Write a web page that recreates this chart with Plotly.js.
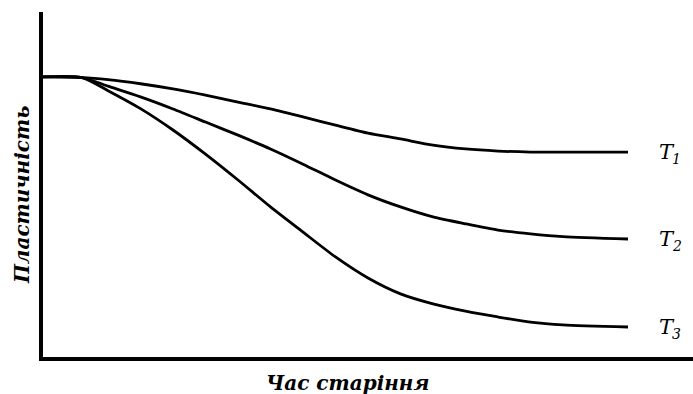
<!DOCTYPE html>
<html>
<head>
<meta charset="utf-8">
<script src="https://cdn.plot.ly/plotly-3.0.1.min.js"></script>
<style>
  html, body { margin: 0; padding: 0; background: #fff; }
  #chart { width: 693px; height: 394px; }
</style>
</head>
<body>
<div id="chart"></div>
<script>
// Ageing time (arbitrary units) and plasticity for three temperatures
const ageingTime = [0, 0.6, 1.0, 1.5, 2.0, 2.5, 3.0, 3.5, 4.0, 4.5, 5.0, 5.5, 6.0, 6.5, 7.0, 7.5, 8.0, 9.0];
const plasticityT1 = [8.12, 8.10, 8.04, 7.92, 7.77, 7.59, 7.39, 7.19, 6.96, 6.72, 6.49, 6.32, 6.14, 6.03, 5.97, 5.94, 5.94, 5.94];
const plasticityT2 = [8.12, 8.10, 7.85, 7.54, 7.19, 6.81, 6.43, 6.03, 5.59, 5.13, 4.70, 4.35, 4.06, 3.86, 3.68, 3.57, 3.49, 3.42];
const plasticityT3 = [8.12, 8.10, 7.72, 7.20, 6.58, 5.88, 5.13, 4.35, 3.62, 2.90, 2.29, 1.83, 1.54, 1.33, 1.16, 1.01, 0.93, 0.87];
const curveNames = ['T', 'T', 'T'];
const curveIndices = ['1', '2', '3'];

const xTitle = 'Час старіння';
const yTitle = 'Пластичність';

const series = [plasticityT1, plasticityT2, plasticityT3];

const serif = 'DejaVu Serif';

const traces = series.map(ys => ({
    x: ageingTime,
    y: ys,
    type: 'scatter',
    mode: 'lines',
    line: { color: '#000', width: 2.8, shape: 'spline', smoothing: 0.7 },
    hoverinfo: 'skip'
}));

const annotations = [];

// Curve labels (T with a subscript index) just right of each line end
series.forEach((ys, i) => {
    const xEnd = ageingTime[ageingTime.length - 1] + 0.45;
    const yEnd = ys[ys.length - 1];
    annotations.push({
        x: xEnd, y: yEnd, xref: 'x', yref: 'y',
        text: curveNames[i], showarrow: false,
        xanchor: 'left', yanchor: 'middle',
        font: { family: serif, size: 21, color: '#000', style: 'italic' }
    });
    annotations.push({
        x: xEnd, y: yEnd, xref: 'x', yref: 'y',
        text: curveIndices[i], showarrow: false,
        xanchor: 'left', yanchor: 'middle',
        xshift: 13, yshift: -7,
        font: { family: serif, size: 14, color: '#000', style: 'italic' }
    });
});

const titleFont = { family: serif, size: 20, color: '#000', weight: 'bold', style: 'italic' };

annotations.push({
    x: 0.469, y: -0.075, xref: 'paper', yref: 'paper',
    text: xTitle, showarrow: false,
    xanchor: 'center', yanchor: 'middle',
    font: titleFont
});
annotations.push({
    x: -0.032, y: 0.47, xref: 'paper', yref: 'paper',
    text: yTitle, showarrow: false, textangle: -90,
    xanchor: 'center', yanchor: 'middle',
    font: titleFont
});

const layout = {
    width: 693,
    height: 394,
    margin: { l: 43, r: 0, t: 12, b: 37 },
    paper_bgcolor: '#fff',
    plot_bgcolor: '#fff',
    showlegend: false,
    font: { family: serif },
    xaxis: {
        range: [0, 10],
        showline: true,
        linecolor: '#000',
        linewidth: 4,
        showgrid: false,
        zeroline: false,
        showticklabels: false,
        ticks: ''
    },
    yaxis: {
        range: [0, 10],
        showline: true,
        linecolor: '#000',
        linewidth: 4,
        showgrid: false,
        zeroline: false,
        showticklabels: false,
        ticks: ''
    },
    annotations: annotations
};

Plotly.newPlot('chart', traces, layout, { staticPlot: true, displayModeBar: false });
</script>
</body>
</html>
